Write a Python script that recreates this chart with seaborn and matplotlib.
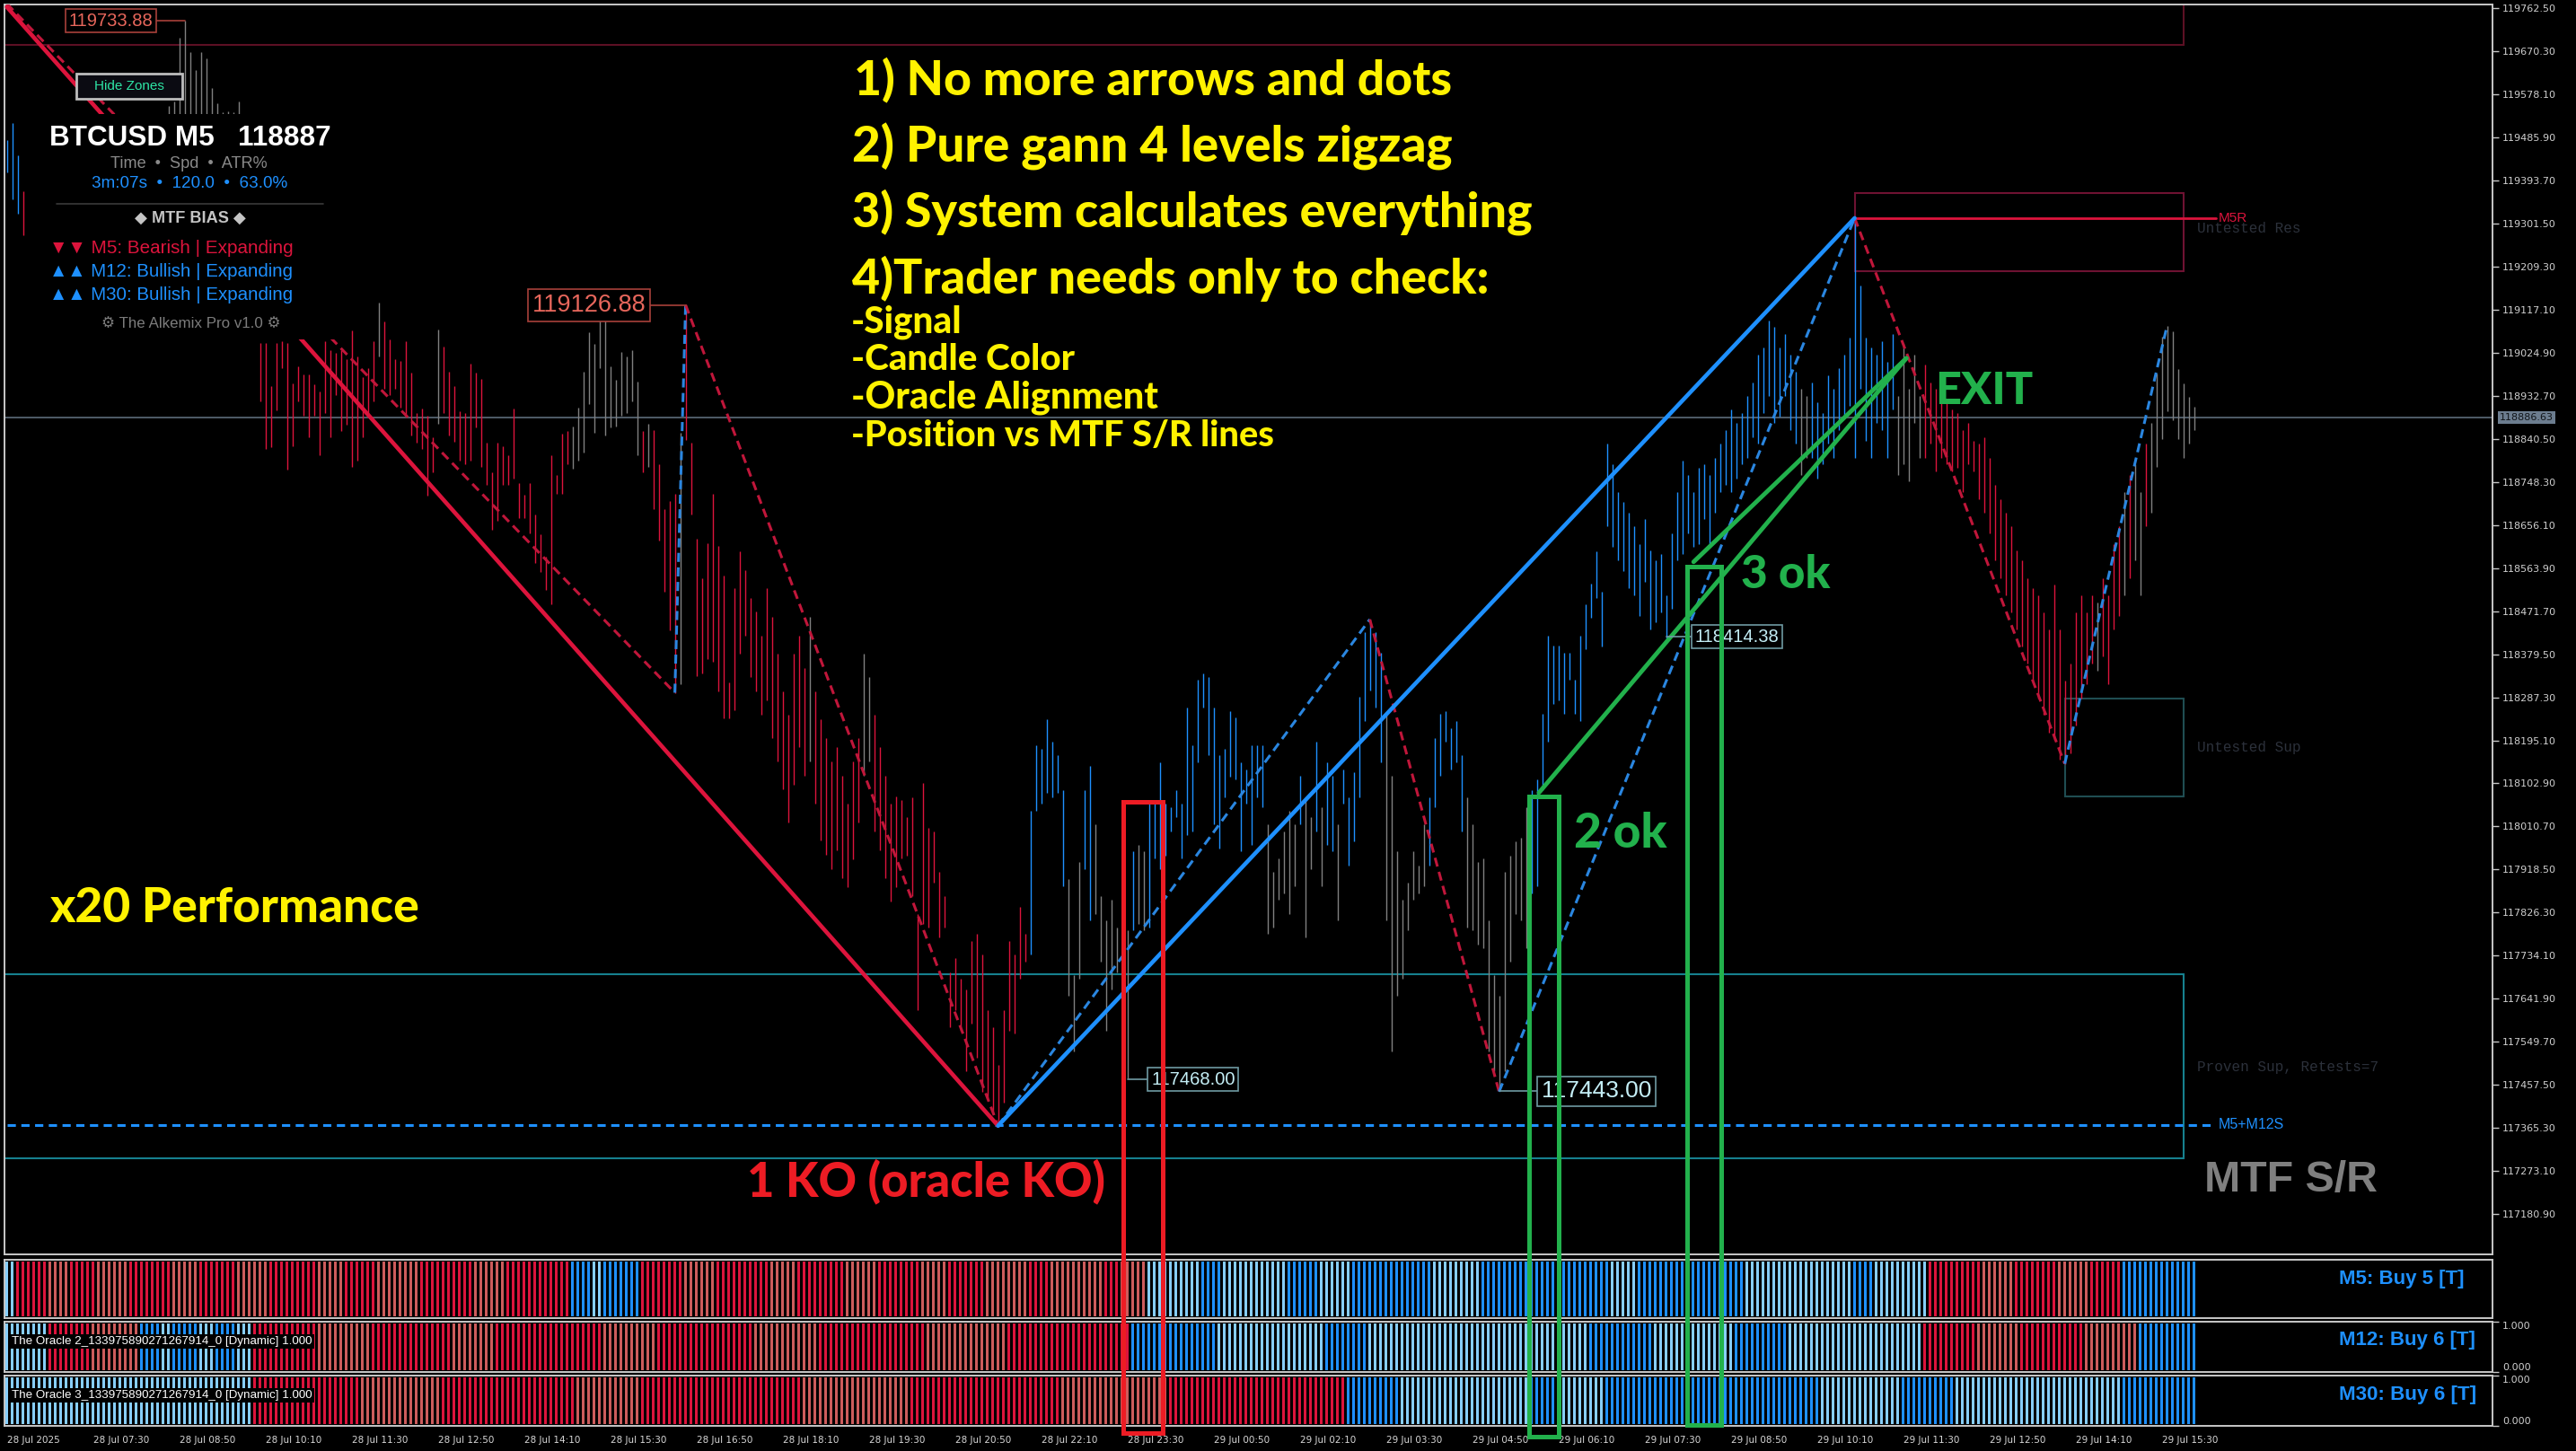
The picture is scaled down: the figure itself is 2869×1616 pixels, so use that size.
import numpy as np
import pandas as pd
import matplotlib
matplotlib.use("Agg")
import matplotlib.pyplot as plt
import seaborn as sns
from matplotlib import font_manager
from matplotlib.patches import Rectangle

# ---------------- data ----------------
HIGH = [
    119480, 119516, 119447, 119370, 119330, 119340, 119360, 119380, 119350, 119400,
    119420, 119390, 119430, 119450, 119440, 119470, 119460, 119480, 119500, 119490,
    119470, 119500, 119510, 119490, 119520, 119510, 119500, 119520, 119525, 119520,
    119553, 119563, 119700, 119735, 119668, 119630, 119668, 119655, 119591, 119558,
    119540, 119542, 119540, 119562, 119400, 119330, 119250, 119046, 119046, 118953,
    119046, 119050, 119046, 118960, 118995, 118979, 118979, 118957, 118941, 119050,
    119030, 119024, 119030, 119011, 119072, 119017, 118973, 118992, 119050, 119133,
    119091, 119053, 119011, 119008, 119050, 118982, 118896, 118905, 118889, 118844,
    119075, 119037, 118985, 118953, 118899, 118896, 119001, 118982, 118969, 118832,
    118768, 118832, 118825, 118806, 118905, 118745, 118720, 118745, 118678, 118636,
    118588, 118806, 118764, 118851, 118857, 118867, 118908, 118985, 119069, 119043,
    119114, 119120, 118995, 118966, 119027, 119017, 119030, 118963, 118857, 118873,
    118860, 118787, 118691, 118707, 118723, 118854, 119126, 118832, 118627, 118543,
    118617, 118723, 118611, 118547, 118319, 118520, 118600, 118560, 118500, 118470,
    118420, 118520, 118460, 118380, 118300, 118250, 118380, 118420, 118350, 118460,
    118300, 118240, 118200, 118150, 118180, 118120, 118060, 118150, 118200, 118380,
    118330, 118250, 118180, 118120, 118060, 118075, 118067, 118030, 118074, 117824,
    118104, 118008, 118001, 117913, 117861, 117699, 117729, 117684, 117662, 117765,
    117780, 117736, 117618, 117582, 117501, 117618, 117765, 117736, 117839, 117780,
    118045, 118185, 118177, 118240, 118192, 118163, 118089, 117898, 117692, 117935,
    118089, 118141, 118015, 117861, 117810, 117854, 117795, 117957, 117788, 117957,
    117971, 117957, 118060, 118060, 118148, 118060, 118052, 118089, 118060, 118266,
    118185, 118324, 118339, 118331, 118266, 118163, 118177, 118258, 118244, 118148,
    118133, 118185, 118185, 118185, 118015, 117913, 117942, 118001, 118045, 118015,
    118119, 118074, 118030, 118192, 118052, 118148, 118119, 118015, 118133, 118074,
    118126, 118288, 118427, 118453, 118427, 118383, 118251, 118119, 117957, 117854,
    117891, 117957, 117927, 118015, 118074, 118199, 118251, 118258, 118222, 118236,
    118163, 118074, 118015, 117935, 117942, 117810, 117692, 117648, 117913, 117949,
    117979, 117986, 118052, 118089, 118111, 118251, 118420, 118398, 118398, 118383,
    118383, 118324, 118420, 118486, 118530, 118600, 118513, 118830, 118786, 118727,
    118705, 118683, 118653, 118616, 118668, 118602, 118580, 118594, 118506, 118638,
    118727, 118793, 118763, 118727, 118778, 118786, 118763, 118800, 118830, 118859,
    118903, 118874, 118896, 118933, 118962, 119021, 119036, 119094, 119080, 119036,
    119065, 119021, 118984, 118947, 118933, 118962, 118918, 118896, 118977, 118947,
    118991, 119021, 119058, 119313, 119168, 119058, 119036, 119021, 119050, 119006,
    119065, 118933, 119043, 118947, 119021, 118933, 119000, 118962, 118947, 118918,
    118925, 118903, 118896, 118859, 118874, 118837, 118830, 118844, 118800, 118741,
    118712, 118683, 118653, 118602, 118580, 118543, 118521, 118506, 118469, 118432,
    118528, 118432, 118322, 118359, 118469, 118506, 118469, 118506, 118491, 118543,
    118506, 118616, 118653, 118727, 118763, 118786, 118727, 118830, 118874, 118980,
    119060, 119082, 119070, 118990, 118960, 118930, 118910,
]
LOW = [
    119410, 119353, 119322, 119276, 119250, 119260, 119270, 119300, 119290, 119310,
    119330, 119320, 119350, 119370, 119360, 119380, 119390, 119400, 119410, 119420,
    119400, 119420, 119430, 119410, 119440, 119450, 119430, 119450, 119460, 119450,
    119440, 119460, 119480, 119520, 119500, 119470, 119480, 119470, 119440, 119420,
    119400, 119390, 119380, 119370, 119200, 119120, 119080, 118921, 118819, 118822,
    118902, 118992, 118774, 118825, 118921, 118889, 118844, 118889, 118806, 118896,
    118844, 118934, 118857, 118870, 118780, 118793, 118844, 118889, 118921, 119017,
    118947, 118934, 118947, 118908, 118889, 118848, 118832, 118819, 118719, 118768,
    118873, 118896, 118848, 118835, 118793, 118787, 118793, 118864, 118780, 118742,
    118646, 118665, 118742, 118742, 118755, 118671, 118671, 118639, 118575, 118556,
    118518, 118486, 118723, 118723, 118787, 118777, 118793, 118812, 118915, 118854,
    118992, 118848, 118864, 118867, 118889, 118896, 118921, 118806, 118768, 118780,
    118691, 118623, 118514, 118431, 118297, 118316, 118838, 118678, 118332, 118338,
    118370, 118364, 118300, 118242, 118242, 118260, 118380, 118420, 118330, 118300,
    118250, 118280, 118200, 118150, 118090, 118020, 118100, 118180, 118120, 118150,
    118060, 117980, 117950, 117920, 117960, 117900, 117880, 117940, 118020, 118120,
    118150, 118000, 117960, 117900, 117850, 117880, 117942, 117949, 117861, 117618,
    117802, 117795, 117891, 117773, 117795, 117582, 117618, 117574, 117486, 117589,
    117515, 117442, 117427, 117398, 117370, 117420, 117574, 117567, 117684, 117721,
    117736, 118045, 118060, 118082, 118074, 118082, 117883, 117648, 117530, 117684,
    117920, 117810, 117824, 117721, 117574, 117662, 117699, 117758, 117471, 117788,
    117802, 117788, 117795, 117942, 117920, 117949, 118001, 118030, 117942, 117993,
    118001, 118148, 118266, 118163, 118016, 117964, 118074, 118118, 118111, 117957,
    118060, 117971, 118074, 118052, 117780, 117795, 117854, 117868, 117824, 117883,
    118015, 117773, 117920, 118001, 117883, 117971, 117957, 117810, 118060, 117927,
    117979, 118074, 118236, 118302, 118266, 118148, 117810, 117530, 117648, 117684,
    117788, 117854, 117868, 117883, 117927, 118052, 118119, 118192, 118133, 118148,
    118001, 117795, 117788, 117758, 117751, 117530, 117486, 117445, 117486, 117721,
    117824, 117810, 117751, 117868, 117883, 118089, 118192, 118273, 118280, 118251,
    118324, 118251, 118236, 118391, 118457, 118500, 118396, 118653, 118609, 118580,
    118557, 118521, 118506, 118462, 118535, 118432, 118447, 118469, 118414, 118476,
    118580, 118594, 118638, 118609, 118616, 118668, 118616, 118683, 118727, 118741,
    118727, 118756, 118786, 118800, 118844, 118830, 118896, 118933, 118874, 118888,
    118933, 118859, 118830, 118763, 118800, 118800, 118756, 118786, 118830, 118800,
    118859, 118888, 118911, 118800, 118947, 118837, 118800, 118874, 118859, 118800,
    118903, 118763, 118786, 118749, 118874, 118800, 118800, 118830, 118771, 118800,
    118786, 118771, 118778, 118727, 118786, 118771, 118712, 118683, 118638, 118580,
    118543, 118506, 118469, 118432, 118396, 118359, 118322, 118285, 118249, 118212,
    118197, 118153, 118145, 118168, 118227, 118285, 118315, 118359, 118344, 118374,
    118315, 118432, 118462, 118506, 118543, 118580, 118506, 118653, 118683, 118780,
    118840, 118900, 118880, 118840, 118800, 118830, 118860,
]
# bar colour runs: r = bearish, b = bullish, g = neutral
BAR_COLOR_RUNS = [
    ('b', 3), ('r', 2), ('r', 25), ('g', 14), ('r', 3), ('r', 22), ('g', 1), ('r', 10),
    ('g', 1), ('r', 24), ('g', 13), ('r', 1), ('g', 1), ('r', 5), ('g', 1), ('r', 23),
    ('g', 1), ('r', 9), ('g', 2), ('r', 29), ('b', 7), ('g', 3), ('b', 2), ('g', 7),
    ('b', 1), ('g', 2), ('b', 22), ('g', 6), ('b', 1), ('g', 2), ('b', 1), ('g', 1),
    ('b', 2), ('g', 1), ('b', 8), ('g', 8), ('b', 7), ('g', 12), ('b', 50), ('g', 2),
    ('b', 16), ('g', 5), ('r', 32), ('g', 1), ('r', 4), ('g', 1), ('r', 1), ('g', 2),
    ('r', 1), ('g', 9),
]
# oracle strips: R strong bear, S weak bear, B strong bull, L weak bull
ORACLE_M5 = [
    ('L', 2), ('R', 6), ('S', 4), ('R', 5), ('S', 6), ('R', 8), ('S', 5), ('R', 7), ('S', 6),
    ('R', 9), ('S', 5), ('R', 6), ('S', 8), ('R', 10), ('S', 6), ('R', 12), ('B', 4), ('L', 2),
    ('B', 7), ('R', 8), ('S', 6), ('R', 10), ('S', 5), ('R', 9), ('S', 6), ('R', 8), ('S', 5),
    ('R', 7), ('S', 8), ('R', 4), ('S', 10), ('R', 3), ('S', 5), ('L', 10), ('B', 4), ('L', 12),
    ('B', 6), ('L', 6), ('B', 15), ('L', 9), ('B', 10), ('B', 14), ('L', 5), ('B', 20), ('L', 20),
    ('B', 4), ('L', 10), ('R', 10), ('S', 6), ('R', 8), ('S', 6), ('R', 6), ('B', 14),
]
ORACLE_M12 = [
    ('L', 8), ('R', 8), ('S', 9), ('B', 4), ('L', 2), ('B', 5), ('L', 3), ('B', 4), ('L', 3),
    ('R', 12), ('S', 10), ('R', 15), ('S', 8), ('R', 20), ('S', 10), ('R', 18), ('S', 12),
    ('R', 20), ('S', 15), ('R', 23), ('B', 16), ('L', 20), ('B', 8), ('L', 31), ('L', 10),
    ('B', 12), ('L', 15), ('B', 10), ('L', 25), ('R', 10), ('S', 8), ('R', 12), ('S', 10),
    ('B', 11),
]
ORACLE_M30 = [
    ('L', 46), ('R', 20), ('S', 15), ('R', 25), ('S', 12), ('R', 30), ('S', 20), ('R', 28),
    ('S', 20), ('R', 33), ('B', 10), ('L', 24), ('B', 6), ('L', 8), ('B', 15), ('B', 25),
    ('L', 15), ('B', 10), ('L', 31), ('B', 14),
]
ORACLE_NAMES = ["M5: Buy 5 [T]", "M12: Buy 6 [T]", "M30: Buy 6 [T]"]

# gann zigzag pivots (bar index, price)
ZZ_BAR = [0, 124, 126, 184, 253, 277, 343, 382, 401]
ZZ_PRICE = [119772, 118297, 119127, 117370, 118454, 117443, 119313, 118145, 119083]
SWING_BAR = [0, 184, 343]
SWING_PRICE = [119765, 117370, 119313]
TREND_A_BAR, TREND_A_PRICE = [284.4, 352.6], [118083, 119013]
TREND_B_BAR, TREND_B_PRICE = [313.1, 352.6], [118577, 119013]

LAST_PRICE = 118886.63
M5R_PRICE = 119313
M5M12S_PRICE = 117372

PRICE_TICKS = [119762.50, 119670.30, 119578.10, 119485.90, 119393.70, 119301.50, 119209.30,
               119117.10, 119024.90, 118932.70, 118840.50, 118748.30, 118656.10, 118563.90,
               118471.70, 118379.50, 118287.30, 118195.10, 118102.90, 118010.70, 117918.50,
               117826.30, 117734.10, 117641.90, 117549.70, 117457.50, 117365.30, 117273.10,
               117180.90]
TIME_LABELS = ["28 Jul 2025", "28 Jul 07:30", "28 Jul 08:50", "28 Jul 10:10", "28 Jul 11:30",
               "28 Jul 12:50", "28 Jul 14:10", "28 Jul 15:30", "28 Jul 16:50", "28 Jul 18:10",
               "28 Jul 19:30", "28 Jul 20:50", "28 Jul 22:10", "28 Jul 23:30", "29 Jul 00:50",
               "29 Jul 02:10", "29 Jul 03:30", "29 Jul 04:50", "29 Jul 06:10", "29 Jul 07:30",
               "29 Jul 08:50", "29 Jul 10:10", "29 Jul 11:30", "29 Jul 12:50", "29 Jul 14:10",
               "29 Jul 15:30"]

# price tags: text, anchor bar, anchor price, label centre bar, size, style
TAG_TEXT = ["119733.88", "119126.88", "117468.00", "117443.00", "118414.38"]
TAG_BAR = [33, 126, 208, 277, 308]
TAG_PRICE = [119735, 119126.88, 117469, 117444, 118417]
TAG_LABEL_BAR = [19.3, 108.1, 220.2, 295.1, 321.2]
TAG_SIZE = [14.5, 19.5, 14.5, 19, 14.5]
TAG_STYLE = ['red', 'red', 'cyan', 'cyan', 'cyan']

# zones: bar from, bar to, low, high, edge colour
ZONES = [(-1, 404.1, 119684, 119790, '#5c1024'),
         (343, 404.1, 119199, 119366, '#6e1232'),
         (382, 404.1, 118075, 118285, '#1f4d52'),
         (-1, 404.1, 117300, 117694, '#16808e')]
# highlight boxes drawn by the trader: bar from, bar to, top, bottom, colour
MARK_BOXES = [(207.3, 214.6, 118063, 116712, '#ed1c24'),
              (282.6, 288.1, 118075, 116704, '#22b14c'),
              (311.9, 318.2, 118567, 116729, '#22b14c')]

# ---------------- style ----------------
sns.set_theme(style="dark", rc={
    "figure.facecolor": "black", "axes.facecolor": "black", "axes.edgecolor": "#c8c8c8",
    "axes.grid": False, "text.color": "white", "xtick.color": "#c8c8c8",
    "ytick.color": "#c8c8c8", "axes.linewidth": 1.4,
})
avail = {f.name for f in font_manager.fontManager.ttflist}
def pick(*names):
    for n in names:
        if n in avail:
            return n
    return 'DejaVu Sans'
SANS = pick('Liberation Sans', 'Arial', 'DejaVu Sans')
HEAVY = pick('Lato', 'Open Sans', 'Liberation Sans')
MONO = pick('Liberation Mono', 'DejaVu Sans Mono')
plt.rcParams['font.family'] = [SANS, 'DejaVu Sans']

CRIMSON, SALMON, BLUE, LBLUE, GREY = '#dc143c', '#cd5c5c', '#1e90ff', '#87cefa', '#808080'
BAR_PALETTE = {'r': CRIMSON, 'b': BLUE, 'g': GREY}
ORACLE_PALETTE = {'R': CRIMSON, 'S': SALMON, 'B': BLUE, 'L': LBLUE}
YELLOW, GREEN, RED = '#fff200', '#22b14c', '#ed1c24'

N = len(HIGH)
idx = np.arange(N)

def expand(runs):
    out = []
    for code, n in runs:
        out += [code] * n
    out = out[:N]
    return out + [out[-1]] * (N - len(out))

W, H = 2869, 1616
fig = plt.figure(figsize=(W / 100, H / 100), dpi=100)
R = fig.canvas.get_renderer()

def add_px_axes(x0, y0, x1, y1, z):
    return fig.add_axes([x0 / W, 1 - y1 / H, (x1 - x0) / W, (y1 - y0) / H], zorder=z)

def fit(t, width_px):
    w = t.get_window_extent(renderer=R).width
    t.set_fontsize(t.get_fontsize() * width_px / w)
    return t

XL = (-0.43, 461.4)
PANELS = [(1403, 1468), (1472, 1528), (1532, 1588)]
NAME_BASE = [1430, 1498, 1559]
NAME_WIDTH = [139, 152, 152]
oracle_axes = []
for k, (runs, (y0, y1)) in enumerate(zip([ORACLE_M5, ORACLE_M12, ORACLE_M30], PANELS)):
    oax = add_px_axes(5, y0, 2776, y1, 1)
    cols = [ORACLE_PALETTE[c] for c in expand(runs)]
    oax.bar(idx, 0.94, bottom=0.03, width=0.55, color=cols, linewidth=0)
    oax.set_xlim(*XL)
    oax.set_ylim(0, 1)
    oax.set_xticks([])
    nm = fig.text(2605 / W, 1 - NAME_BASE[k] / H, ORACLE_NAMES[k], color=BLUE, fontsize=12,
                  fontweight='bold', ha='left', va='baseline', family=SANS, zorder=12)
    fit(nm, NAME_WIDTH[k])
    if k > 0:
        oax.yaxis.tick_right()
        oax.set_yticks([0, 1])
        oax.set_yticklabels(["0.000", "1.000"], fontsize=8, family='DejaVu Sans', color='#d0d0d0')
        for lbl, va in zip(oax.get_yticklabels(), ['bottom', 'top']):
            lbl.set_va(va)
        oax.tick_params(axis='y', length=5, width=1, color='#c8c8c8', pad=3)
        lab = oax.text(0.003, 0.6, f"The Oracle {k + 1}_133975890271267914_0 [Dynamic] 1.000",
                       transform=oax.transAxes, color='white', fontsize=8, family=SANS,
                       ha='left', va='center',
                       bbox=dict(boxstyle='square,pad=0.15', fc='black', ec='none'))
        fit(lab, 335)
    else:
        oax.set_yticks([])
    for s in oax.spines.values():
        s.set_color('#c8c8c8')
    oracle_axes.append(oax)

bax = oracle_axes[-1]
bax.set_xticks([16 * k for k in range(len(TIME_LABELS))])
bax.set_xticklabels(TIME_LABELS, fontsize=7.5, family='DejaVu Sans', color='#d8d8d8')
for lbl in bax.get_xticklabels():
    lbl.set_ha('left')
bax.tick_params(axis='x', length=5, width=1, color='#c8c8c8', pad=3)

# ---------------- price panel ----------------
ax = add_px_axes(5, 5, 2776, 1397, 3)
ax.set_facecolor('black')
bar_cols = [BAR_PALETTE[c] for c in expand(BAR_COLOR_RUNS)]
ax.vlines(idx, LOW, HIGH, colors=bar_cols, lw=1.0, zorder=2)

for b0, b1, lo, hi, ec in ZONES:
    ax.add_patch(Rectangle((b0, lo), b1 - b0, hi - lo, fill=False, ec=ec, lw=1.5, zorder=1))

ax.axhline(LAST_PRICE, color='#5d6b7a', lw=1.2, zorder=1)
ax.plot([343, 410], [M5R_PRICE] * 2, color=CRIMSON, lw=2, zorder=3)
ax.plot([0, 409], [M5M12S_PRICE] * 2, color=BLUE, lw=2.2, ls=(0, (3, 2)), zorder=3)

dash = (0, (3.3, 2.0))
for k in range(len(ZZ_BAR) - 1):
    seg = pd.DataFrame({'bar': ZZ_BAR[k:k + 2], 'price': ZZ_PRICE[k:k + 2]})
    up = ZZ_PRICE[k + 1] > ZZ_PRICE[k]
    sns.lineplot(data=seg, x='bar', y='price', ax=ax, color='#2a86e0' if up else '#c0163a',
                 lw=2.2, linestyle=dash, zorder=4, legend=False)
for k in range(len(SWING_BAR) - 1):
    seg = pd.DataFrame({'bar': SWING_BAR[k:k + 2], 'price': SWING_PRICE[k:k + 2]})
    up = SWING_PRICE[k + 1] > SWING_PRICE[k]
    sns.lineplot(data=seg, x='bar', y='price', ax=ax, color=BLUE if up else CRIMSON,
                 lw=3.3, zorder=5, legend=False)
for xb, yp in [(TREND_A_BAR, TREND_A_PRICE), (TREND_B_BAR, TREND_B_PRICE)]:
    sns.lineplot(x=xb, y=yp, ax=ax, color=GREEN, lw=3.5, zorder=5, legend=False)

for s, b, p, lb, fs, st in zip(TAG_TEXT, TAG_BAR, TAG_PRICE, TAG_LABEL_BAR, TAG_SIZE, TAG_STYLE):
    tc, ec = ('#e8675c', '#a8403a') if st == 'red' else ('#c4eef6', '#6f9aa3')
    ax.plot([b, lb], [p, p], color=ec, lw=1.2, zorder=6)
    ax.text(lb, p, s, color=tc, fontsize=fs, family=SANS, ha='center', va='center', zorder=7,
            bbox=dict(boxstyle='square,pad=0.18', fc='black', ec=ec, lw=1.2))

for b0, b1, top, bot, c in MARK_BOXES:
    ax.add_patch(Rectangle((b0, bot), b1 - b0, top - bot, fill=False, ec=c, lw=3.6,
                           zorder=8, clip_on=False))

ax.text(410.5, M5R_PRICE, "M5R", color=CRIMSON, fontsize=11, family=SANS, va='center', zorder=6)
ax.text(410.5, M5M12S_PRICE, "M5+M12S", color=BLUE, fontsize=11.5, family=SANS, va='center', zorder=6)
ax.text(406.5, 119290, "Untested Res", color='#2c313b', fontsize=11.5, family=MONO, va='center')
ax.text(406.5, 118180, "Untested Sup", color='#2c313b', fontsize=11.5, family=MONO, va='center')
ax.text(406.5, 117496, "Proven Sup, Retests=7", color='#2c313b', fontsize=11.5, family=MONO, va='center')

ax.set_xlim(*XL)
ax.set_ylim(117094.8, 119770.2)
ax.set_xlabel('')
ax.set_ylabel('')
ax.set_xticks([])
ax.yaxis.tick_right()
ax.set_yticks(PRICE_TICKS)
ax.set_yticklabels([f"{v:.2f}" for v in PRICE_TICKS], fontsize=8, family='DejaVu Sans', color='#d0d0d0')
ax.tick_params(axis='y', length=5, width=1, color='#c8c8c8', pad=3)
for s in ax.spines.values():
    s.set_color('#c8c8c8')
fig.text(2784 / W, 1 - 465 / H, f"{LAST_PRICE:.2f}", fontsize=8, family='DejaVu Sans',
         color='#101418', ha='left', va='center', zorder=12,
         bbox=dict(boxstyle='square,pad=0.2', fc='#6c7d8f', ec='none'))

# ---------------- overlay texts ----------------
def ptext(x0, x1, yb, s, color, family, weight='normal', z=12):
    t = fig.text(x0 / W, 1 - yb / H, s, color=color, fontsize=20, family=family,
                 fontweight=weight, ha='left', va='baseline', zorder=z)
    return fit(t, x1 - x0)

# info panel (opaque)
fig.add_artist(Rectangle((30 / W, 1 - 378 / H), 342 / W, 251 / H, transform=fig.transFigure,
                         fc='black', ec='none', zorder=9))
fig.add_artist(Rectangle((85 / W, 1 - 110 / H), 118 / W, 28 / H, transform=fig.transFigure,
                         fc='#0b0b12', ec='#bdbdbd', lw=2, zorder=9))
fig.text(144 / W, 1 - 96 / H, "Hide Zones", color='#2ee6a6', fontsize=11, family=SANS,
         ha='center', va='center', zorder=12)
ptext(55, 368, 162, "BTCUSD M5   118887", 'white', SANS, 'bold')
ptext(123, 298, 187, "Time  \u2022  Spd  \u2022  ATR%", '#8a8a8a', SANS)
ptext(102, 320, 209, "3m:07s  \u2022  120.0  \u2022  63.0%", BLUE, SANS)
fig.add_artist(plt.Line2D([63 / W, 360 / W], [1 - 227 / H] * 2, color='#3a3a3a', lw=1.2, zorder=12))
ptext(150, 274, 248, "\u25c6 MTF BIAS \u25c6", '#c4c4c4', [SANS, 'DejaVu Sans'], 'bold')
ptext(55, 325, 282, "\u25bc\u25bc M5: Bearish | Expanding", CRIMSON, [SANS, 'DejaVu Sans'])
ptext(55, 327, 308, "\u25b2\u25b2 M12: Bullish | Expanding", BLUE, [SANS, 'DejaVu Sans'])
ptext(55, 327, 334, "\u25b2\u25b2 M30: Bullish | Expanding", BLUE, [SANS, 'DejaVu Sans'])
ptext(113, 312, 365, "\u2699 The Alkemix Pro v1.0 \u2699", '#7c7c7c', [SANS, 'DejaVu Sans'])

# trader notes
ptext(951, 1618, 105, "1) No more arrows and dots", YELLOW, HEAVY, 'black')
ptext(949, 1618, 180, "2) Pure gann 4 levels zigzag", YELLOW, HEAVY, 'black')
ptext(949, 1708, 253, "3) System calculates everything", YELLOW, HEAVY, 'black')
ptext(949, 1659, 327, "4)Trader needs only to check:", YELLOW, HEAVY, 'black')
ptext(948, 1072, 370, "-Signal", YELLOW, HEAVY, 'black')
ptext(948, 1197, 412, "-Candle Color", YELLOW, HEAVY, 'black')
ptext(948, 1291, 455, "-Oracle Alignment", YELLOW, HEAVY, 'black')
ptext(948, 1420, 497, "-Position vs MTF S/R lines", YELLOW, HEAVY, 'black')
ptext(55, 467, 1027, "x20 Performance", YELLOW, HEAVY, 'black')
ptext(832, 1231, 1332, "1 KO (oracle KO)", RED, HEAVY, 'black')
ptext(1753, 1857, 944, "2 ok", GREEN, HEAVY, 'black')
ptext(1939, 2039, 655, "3 ok", GREEN, HEAVY, 'black')
ptext(2155, 2264, 450, "EXIT", GREEN, HEAVY, 'black')
ptext(2455, 2648, 1327, "MTF S/R", '#7f7f7f', SANS, 'bold')

fig.savefig("out.png", dpi=100, facecolor='black')
